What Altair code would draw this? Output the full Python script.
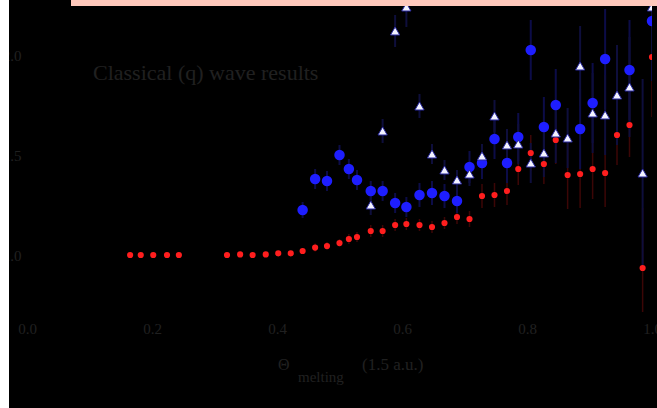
import altair as alt
import pandas as pd

# ---------------- data ----------------
red_x = [0.165, 0.182, 0.202, 0.224, 0.243,
         0.32, 0.341, 0.361, 0.382, 0.402, 0.422, 0.441, 0.461, 0.48, 0.50,
         0.515, 0.528, 0.55, 0.569, 0.589, 0.607, 0.628, 0.648, 0.668, 0.688,
         0.708, 0.728, 0.748, 0.768, 0.786, 0.806, 0.827, 0.846, 0.865, 0.885,
         0.905, 0.925, 0.944, 0.964, 0.985, 1.0]
red_y = [1.0, 1.0, 1.0, 1.0, 1.0,
         1.0, 1.003, 1.0, 1.003, 1.008, 1.008, 1.02, 1.037, 1.045, 1.06,
         1.08, 1.09, 1.12, 1.12, 1.15, 1.155, 1.15, 1.14, 1.16, 1.19,
         1.18, 1.295, 1.30, 1.32, 1.43, 1.51, 1.455, 1.575, 1.40, 1.405,
         1.43, 1.41, 1.60, 1.65, 0.935, 1.99]
red_err = [0.01, 0.01, 0.01, 0.01, 0.01,
           0.01, 0.01, 0.01, 0.01, 0.012, 0.012, 0.015, 0.02, 0.02, 0.02,
           0.025, 0.025, 0.03, 0.03, 0.03, 0.03, 0.03, 0.03, 0.03, 0.035,
           0.04, 0.06, 0.06, 0.07, 0.08, 0.09, 0.10, 0.12, 0.17, 0.17,
           0.15, 0.17, 0.15, 0.16, 0.30, 0.30]

blue_x = [0.441, 0.461, 0.48, 0.50, 0.515, 0.528, 0.55, 0.569, 0.589, 0.607,
          0.628, 0.648, 0.668, 0.688, 0.708, 0.728, 0.748, 0.768, 0.786, 0.806,
          0.827, 0.846, 0.885, 0.905, 0.925, 0.964, 1.0]
blue_y = [1.225, 1.38, 1.37, 1.50, 1.43, 1.375, 1.32, 1.32, 1.26, 1.24,
          1.30, 1.31, 1.295, 1.27, 1.44, 1.46, 1.58, 1.46, 1.59, 2.025,
          1.64, 1.75, 1.63, 1.76, 1.98, 1.925, 2.17]
blue_err = [0.04, 0.05, 0.05, 0.05, 0.05, 0.05, 0.05, 0.05, 0.05, 0.05,
            0.06, 0.06, 0.06, 0.06, 0.08, 0.08, 0.10, 0.10, 0.12, 0.15,
            0.15, 0.18, 0.20, 0.20, 0.25, 0.25, 0.30]

tri_x = [0.55, 0.569, 0.589, 0.607, 0.628, 0.648, 0.668, 0.688, 0.708, 0.728,
         0.748, 0.768, 0.786, 0.806, 0.827, 0.846, 0.865, 0.885, 0.905, 0.925,
         0.944, 0.964, 0.985, 1.0]
tri_y = [1.25, 1.62, 2.12, 2.24, 1.745, 1.505, 1.425, 1.375, 1.405, 1.495,
         1.695, 1.55, 1.555, 1.46, 1.51, 1.61, 1.585, 1.945, 1.71, 1.70,
         1.80, 1.84, 1.41, 2.24]
tri_err = [0.05, 0.06, 0.08, 0.10, 0.06, 0.05, 0.05, 0.05, 0.06, 0.06,
           0.08, 0.08, 0.10, 0.10, 0.12, 0.15, 0.15, 0.20, 0.20, 0.20,
           0.25, 0.25, 0.47, 0.30]

x_ticks = [0.0, 0.2, 0.4, 0.6, 0.8, 1.0]
y_ticks = [1.0, 1.5, 2.0]
annotation = "Classical (q) wave results"
xtitle_main = "Θ"
xtitle_sub = "melting"
xtitle_unit = "(1.5 a.u.)"

# ---------------- styling ----------------
W, H = 625, 312
TXT = "#202020"
FONT = "Liberation Serif"


def frame(xv, yv, ev):
    return pd.DataFrame({"x": xv, "y": yv,
                         "lo": [a - b for a, b in zip(yv, ev)],
                         "hi": [a + b for a, b in zip(yv, ev)]})


red = frame(red_x, red_y, red_err)
blue = frame(blue_x, blue_y, blue_err)
tri = frame(tri_x, tri_y, tri_err)
one = pd.DataFrame({"d": [0]})

xs = alt.Scale(domain=[0, 1], nice=False, zero=False)
ys = alt.Scale(domain=[0.715, 2.275], nice=False, zero=False)
xax = alt.Axis(values=x_ticks, format=".1f", labelColor=TXT, labelFont=FONT,
               labelFontSize=15, domain=False, ticks=False, grid=False,
               labelPadding=9, title=None, labelFlush=False, labelOverlap=False,
               labelBound=False)
yax = alt.Axis(values=y_ticks, format=".1f", labelColor=TXT, labelFont=FONT,
               labelFontSize=15, domain=False, ticks=False, grid=False,
               labelPadding=6, title=None, labelOverlap=False, labelBound=False)

X = alt.X("x:Q", scale=xs, axis=xax)
Y = alt.Y("y:Q", scale=ys, axis=yax)
Lo = alt.Y("lo:Q", scale=ys, axis=yax)

red_err_l = alt.Chart(red).mark_rule(color="#3c0606", strokeWidth=1.5, clip=True).encode(x=X, y=Lo, y2="hi:Q")
blue_err_l = alt.Chart(blue).mark_rule(color="#0c0c48", strokeWidth=2, clip=True).encode(x=X, y=Lo, y2="hi:Q")
tri_err_l = alt.Chart(tri).mark_rule(color="#0e0e3c", strokeWidth=2, clip=True).encode(x=X, y=Lo, y2="hi:Q")

red_pts = alt.Chart(red).mark_circle(color="#ff1e1e", size=38, opacity=1, clip=True).encode(x=X, y=Y)
blue_pts = alt.Chart(blue).mark_circle(color="#1e1eff", size=110, opacity=1, clip=True).encode(x=X, y=Y)
tri_pts = alt.Chart(tri).mark_point(shape="triangle-up", filled=True, fill="#f2f2ff",
                                    stroke="#2a2aa0", strokeWidth=1, size=85, opacity=1,
                                    clip=True).encode(x=X, y=Y)

ann = alt.Chart(one).mark_text(text=annotation, font=FONT, fontSize=22, color=TXT,
                               align="left", baseline="middle").encode(
    x=alt.value(66), y=alt.value(73))
t_main = alt.Chart(one).mark_text(text=xtitle_main, font=FONT, fontSize=16, color=TXT,
                                  align="left", baseline="middle").encode(
    x=alt.value(251), y=alt.value(365))
t_sub = alt.Chart(one).mark_text(text=xtitle_sub, font=FONT, fontSize=15, color=TXT,
                                 align="left", baseline="middle").encode(
    x=alt.value(271), y=alt.value(377))
t_unit = alt.Chart(one).mark_text(text=xtitle_unit, font=FONT, fontSize=17, color=TXT,
                                  align="left", baseline="middle").encode(
    x=alt.value(335), y=alt.value(365))

pink = alt.Chart(one).mark_rect(color="#ffc9bc").encode(
    x=alt.value(71 - 27), x2=alt.value(657 - 27), y=alt.value(0), y2=alt.value(6))
white = alt.Chart(one).mark_rect(color="#ffffff").encode(
    x=alt.value(-27), x2=alt.value(9 - 27), y=alt.value(0), y2=alt.value(408))

chart = alt.layer(
    red_err_l, blue_err_l, tri_err_l, red_pts, blue_pts, tri_pts,
    ann, t_main, t_sub, t_unit, pink, white
).properties(
    width=W, height=H,
    autosize=alt.AutoSizeParams(type="none"),
    padding={"left": 27, "top": 0, "right": 5, "bottom": 96},
    background="black",
).configure_view(stroke=None, fill="black")

chart.save("out.html", embed_options={"renderer": "svg", "actions": False})
